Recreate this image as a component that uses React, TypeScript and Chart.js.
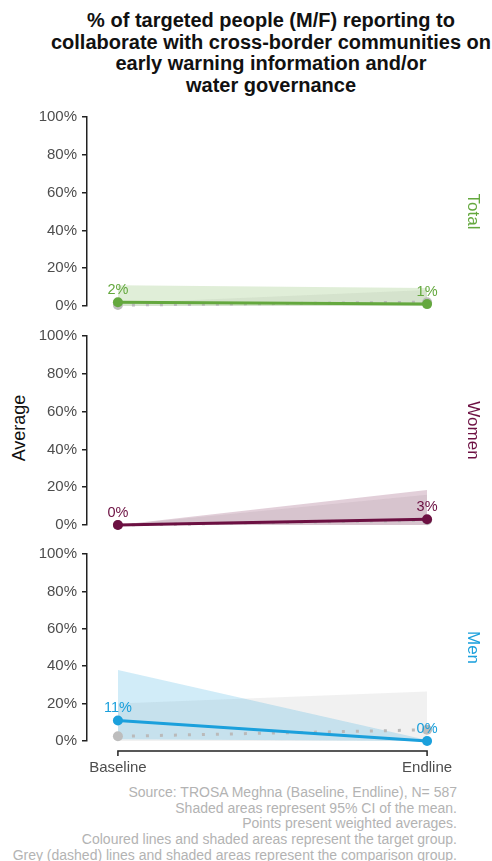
import React, { useEffect, useRef } from 'react';
import { Chart, registerables } from 'chart.js';

Chart.register(...registerables);

const FONT = '"Liberation Sans", Arial, sans-serif';

const periods = ['Baseline', 'Endline'];
const yTicks = [0, 20, 40, 60, 80, 100];

// Target group: weighted averages and 95% CI bounds (%)
const totalTarget = [2, 1];
const totalTargetLow = [0, 0];
const totalTargetHigh = [11, 9.5];

const womenTarget = [0, 3];
const womenTargetLow = [0, 0];
const womenTargetHigh = [0, 18.5];

const menTarget = [11, 0];
const menTargetLow = [1, 0];
const menTargetHigh = [38, 0.5];

// Comparison group: averages and 95% CI bounds (%)
const totalComparison = [0.5, 2];
const totalComparisonLow = [0, 0];
const totalComparisonHigh = [1.5, 8.5];

const womenComparison = [0, 2.5];
const womenComparisonLow = [0, 0];
const womenComparisonHigh = [0, 16];

const menComparison = [2.5, 6];
const menComparisonLow = [0, 0];
const menComparisonHigh = [20, 26.5];

const footerLines = [
  'Source: TROSA Meghna (Baseline, Endline), N= 587',
  'Shaded areas represent 95% CI of the mean.',
  'Points present weighted averages.',
  'Coloured lines and shaded areas represent the target group.',
  'Grey (dashed) lines and shaded areas represent the comparison group.',
];

const GREY_LINE = '#bababa';
const GREY_BAND = 'rgba(190,190,190,0.22)';

type PanelProps = {
  name: string;
  color: string;
  band: string;
  target: number[];
  tLow: number[];
  tHigh: number[];
  comp: number[];
  cLow: number[];
  cHigh: number[];
  top: number;
  height: number;
  showX: boolean;
};

const toPoints = (arr: number[]) => arr.map((v, i) => ({ x: i, y: v }));

// Percent labels above the target-group points
const valueLabels = {
  id: 'valueLabels',
  afterDatasetsDraw(chart: any, _args: any, opts: any) {
    const meta = chart.getDatasetMeta(0);
    const ds = chart.data.datasets[0];
    const ctx = chart.ctx;
    ctx.save();
    ctx.fillStyle = opts.color;
    ctx.font = `14.5px ${FONT}`;
    ctx.textAlign = 'center';
    ctx.textBaseline = 'middle';
    meta.data.forEach((pt: any, i: number) => {
      const v = ds.data[i].y;
      ctx.fillText(`${Math.round(v)}%`, pt.x, pt.y - 12);
    });
    ctx.restore();
  },
};

// Bracket-style period axis drawn between the first and last period
const periodAxis = {
  id: 'periodAxis',
  afterDraw(chart: any) {
    const xs = chart.scales.x;
    if (!xs || !xs.options.display) return;
    const ctx = chart.ctx;
    const y0 = chart.chartArea.bottom + 10;
    const a = xs.getPixelForValue(0);
    const b = xs.getPixelForValue(periods.length - 1);
    ctx.save();
    ctx.strokeStyle = '#222';
    ctx.lineWidth = 1.5;
    ctx.beginPath();
    ctx.moveTo(a, y0 + 5);
    ctx.lineTo(a, y0);
    ctx.lineTo(b, y0);
    ctx.lineTo(b, y0 + 5);
    ctx.stroke();
    ctx.restore();
  },
};

function Panel(p: PanelProps) {
  const ref = useRef<HTMLCanvasElement>(null);

  useEffect(() => {
    if (!ref.current) return;
    const chart = new Chart(ref.current, {
      type: 'line',
      data: {
        datasets: [
          {
            data: toPoints(p.target),
            borderColor: p.color,
            borderWidth: 3,
            pointRadius: 5,
            pointBackgroundColor: p.color,
            pointBorderWidth: 0,
            fill: false,
            clip: false,
          },
          {
            data: toPoints(p.comp),
            borderColor: GREY_LINE,
            borderWidth: 3,
            borderDash: [3, 11],
            borderCapStyle: 'butt',
            pointRadius: 5,
            pointBackgroundColor: '#bdbdbd',
            pointBorderWidth: 0,
            fill: false,
            clip: false,
          },
          {
            data: toPoints(p.tHigh),
            borderWidth: 0,
            pointRadius: 0,
            backgroundColor: p.band,
            fill: 3,
          },
          {
            data: toPoints(p.tLow),
            borderWidth: 0,
            pointRadius: 0,
            fill: false,
          },
          {
            data: toPoints(p.cHigh),
            borderWidth: 0,
            pointRadius: 0,
            backgroundColor: GREY_BAND,
            fill: 5,
          },
          {
            data: toPoints(p.cLow),
            borderWidth: 0,
            pointRadius: 0,
            fill: false,
          },
        ] as any,
      },
      options: {
        animation: false,
        responsive: false,
        maintainAspectRatio: false,
        events: [],
        layout: { padding: { top: 12, bottom: p.showX ? 0 : 12, left: 0, right: 0 } },
        plugins: {
          legend: { display: false },
          tooltip: { enabled: false },
          valueLabels: { color: p.color },
        } as any,
        scales: {
          x: {
            type: 'linear',
            min: -0.1,
            max: 1.1,
            display: p.showX,
            afterBuildTicks: (s: any) => {
              s.ticks = periods.map((_, i) => ({ value: i }));
            },
            afterFit: (s: any) => {
              s.height = p.showX ? 40 : 0;
            },
            ticks: {
              callback: (v: any) => periods[v] ?? '',
              color: '#4d4d4d',
              font: { family: FONT, size: 15 },
              padding: 18,
              maxRotation: 0,
              autoSkip: false,
            },
            grid: { display: false, drawTicks: false },
            border: { display: false },
          },
          y: {
            type: 'linear',
            position: 'left',
            min: 0,
            max: 100,
            afterBuildTicks: (s: any) => {
              s.ticks = yTicks.map((v) => ({ value: v }));
            },
            afterFit: (s: any) => {
              s.width = 87;
            },
            ticks: {
              callback: (v: any) => `${v}%`,
              color: '#4d4d4d',
              font: { family: FONT, size: 15 },
              padding: 5,
            },
            grid: {
              drawOnChartArea: false,
              drawTicks: true,
              tickLength: 5,
              color: '#222',
              lineWidth: 1.5,
            },
            border: { display: true, color: '#222', width: 1.5 },
          },
          strip: {
            type: 'linear',
            position: 'right',
            display: true,
            afterFit: (s: any) => {
              s.width = 34;
            },
            ticks: { display: false },
            grid: { display: false, drawTicks: false },
            border: { display: false },
            title: {
              display: true,
              text: p.name,
              color: p.color,
              font: { family: FONT, size: 17 },
              padding: { top: 9, bottom: 0 },
            },
          },
        } as any,
      },
      plugins: [valueLabels, periodAxis],
    });
    return () => chart.destroy();
  }, []);

  return (
    <canvas
      ref={ref}
      width={492}
      height={p.height}
      style={{ position: 'absolute', left: 0, top: p.top, width: 492, height: p.height, display: 'block' }}
    />
  );
}

export default function App() {
  return (
    <div style={{ position: 'relative', width: 492, height: 861, overflow: 'hidden', background: '#fff', fontFamily: FONT }}>
      <style>{'body{margin:0}'}</style>
      <div
        style={{
          position: 'absolute',
          top: 10,
          left: 271,
          transform: 'translateX(-50%)',
          whiteSpace: 'nowrap',
          textAlign: 'center',
          fontWeight: 'bold',
          fontSize: 20,
          lineHeight: '21.5px',
          color: '#111',
        }}
      >
        % of targeted people (M/F) reporting to
        <br />
        collaborate with cross-border communities on
        <br />
        early warning information and/or
        <br />
        water governance
      </div>

      <div
        style={{
          position: 'absolute',
          left: 19,
          top: 428,
          transform: 'translate(-50%, -50%) rotate(-90deg)',
          whiteSpace: 'nowrap',
          fontSize: 18,
          color: '#111',
        }}
      >
        Average
      </div>

      <Panel
        name="Total"
        color="#64a83e"
        band="rgba(100,168,62,0.2)"
        target={totalTarget}
        tLow={totalTargetLow}
        tHigh={totalTargetHigh}
        comp={totalComparison}
        cLow={totalComparisonLow}
        cHigh={totalComparisonHigh}
        top={103}
        height={217}
        showX={false}
      />
      <Panel
        name="Women"
        color="#6c1042"
        band="rgba(108,16,66,0.2)"
        target={womenTarget}
        tLow={womenTargetLow}
        tHigh={womenTargetHigh}
        comp={womenComparison}
        cLow={womenComparisonLow}
        cHigh={womenComparisonHigh}
        top={322}
        height={217}
        showX={false}
      />
      <Panel
        name="Men"
        color="#1ba0dc"
        band="rgba(27,160,220,0.2)"
        target={menTarget}
        tLow={menTargetLow}
        tHigh={menTargetHigh}
        comp={menComparison}
        cLow={menComparisonLow}
        cHigh={menComparisonHigh}
        top={540}
        height={241}
        showX={true}
      />

      {footerLines.map((line, i) => (
        <div
          key={i}
          style={{
            position: 'absolute',
            right: 35,
            top: 785 + i * 15.7,
            whiteSpace: 'nowrap',
            fontSize: 14,
            lineHeight: '15.7px',
            color: '#b3b3b3',
          }}
        >
          {line}
        </div>
      ))}
    </div>
  );
}
